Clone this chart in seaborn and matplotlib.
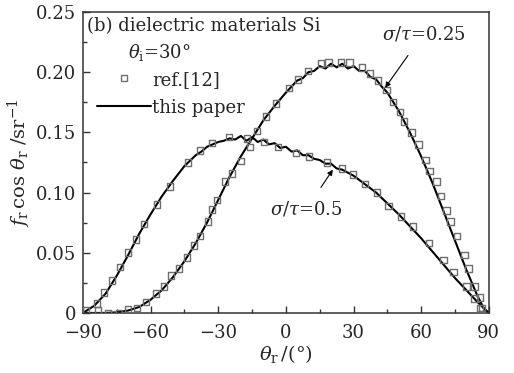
import numpy as np
import pandas as pd
import matplotlib
matplotlib.use("Agg")
import matplotlib.pyplot as plt
import seaborn as sns
from matplotlib.lines import Line2D
from matplotlib.ticker import MultipleLocator

# ---- data ----
# markers (ref.[12]), sigma/tau = 0.5
ref05_x = [-88.7, -83.8, -80.7, -77.1, -73.6, -70.0, -66.5, -63.0, -57.2, -51.4, -43.5, -38.1,
           -32.8, -25.3, -17.3, -9.8, -3.6, 4.4, 10.2, 18.2, 24.8, 29.7, 35.0, 40.3, 45.6,
           51.0, 56.3, 63.4, 70.0, 74.4, 80.2, 83.7, 86.0]
ref05_y = [0.002, 0.008, 0.017, 0.027, 0.038, 0.050, 0.061, 0.074, 0.090, 0.105, 0.125, 0.135,
           0.141, 0.146, 0.145, 0.142, 0.138, 0.133, 0.130, 0.125, 0.120, 0.115, 0.107, 0.100, 0.089,
           0.080, 0.072, 0.058, 0.044, 0.034, 0.022, 0.012, 0.004]
# markers (ref.[12]), sigma/tau = 0.25
ref025_x = [-83.4, -78.9, -74.0, -70.0, -66.0, -62.0, -57.6, -54.0, -51.0, -47.4, -43.9, -40.8,
            -38.1, -34.6, -32.8, -30.6, -27.0, -24.0, -20.0, -16.0, -12.9, -8.9, -4.5, 1.3, 5.3,
            9.7, 15.5, 19.0, 24.4, 28.3, 33.7, 37.2, 40.8, 44.7, 47.4, 50.5, 52.3, 55.8, 58.9,
            62.0, 63.8, 66.9, 68.7, 71.3, 73.1, 75.8, 79.3, 81.1, 83.7, 86.0, 86.9]
ref025_y = [0.002, 0.000, 0.000, 0.003, 0.004, 0.009, 0.016, 0.022, 0.031, 0.037, 0.046, 0.056,
            0.064, 0.076, 0.086, 0.094, 0.109, 0.116, 0.126, 0.138, 0.151, 0.163, 0.174, 0.187, 0.194,
            0.201, 0.207, 0.208, 0.208, 0.208, 0.204, 0.199, 0.193, 0.185, 0.175, 0.167, 0.159, 0.150, 0.140,
            0.127, 0.118, 0.109, 0.097, 0.085, 0.076, 0.064, 0.048, 0.037, 0.022, 0.013, 0.004]

# lines (this paper)
line05_x = [-90, -85, -80, -75, -70, -65, -60, -55, -50, -45, -40, -37.5, -35, -32.5, -30, -27.5, -25,
            -22.5, -20, -17.5, -15, -12.5, -10, -7.5, -5, -2.5, 0, 2.5, 5, 7.5, 10, 12.5, 15,
            17.5, 20, 22.5, 25, 30, 35, 40, 45, 50, 55, 60, 65, 70, 75, 80, 85, 90]
line05_y = [0.000, 0.006, 0.016, 0.031, 0.048, 0.066, 0.082, 0.097, 0.110, 0.122, 0.131, 0.134, 0.138, 0.140,
            0.142, 0.143, 0.145, 0.144, 0.147, 0.143, 0.146, 0.142, 0.144, 0.140, 0.141, 0.137,
            0.138, 0.134, 0.135, 0.131, 0.131, 0.128, 0.127, 0.124, 0.124, 0.120, 0.119, 0.114, 0.107,
            0.100, 0.091, 0.082, 0.072, 0.062, 0.051, 0.040, 0.029, 0.019, 0.009, 0.000]
line025_x = [-90, -80, -75, -70, -65, -60, -55, -50, -45, -40, -35, -30, -25, -20, -15, -10, -5, 0,
             5, 7.5, 10, 12.5, 15, 17.5, 20, 22.5, 25, 27.5, 30, 32.5, 35, 37.5, 40, 42.5, 45, 50,
             55, 60, 65, 70, 75, 80, 85, 88, 90]
line025_y = [0.000, 0.000, 0.0005, 0.002, 0.005, 0.011, 0.019, 0.030, 0.043, 0.058, 0.075, 0.094,
             0.113, 0.130, 0.145, 0.160, 0.172, 0.183, 0.193, 0.195, 0.200, 0.201, 0.205, 0.203,
             0.207, 0.204, 0.207, 0.203, 0.205, 0.201, 0.201, 0.196, 0.194, 0.188, 0.183, 0.168,
             0.150, 0.130, 0.108, 0.084, 0.060, 0.036, 0.014, 0.003, 0.000]

x_ticks = [-90, -60, -30, 0, 30, 60, 90]
y_ticks = [0, 0.05, 0.10, 0.15, 0.20, 0.25]
y_tick_labels = ["0", "0.05", "0.10", "0.15", "0.20", "0.25"]

sns.set_style("white")
plt.rcParams['font.family'] = ['DejaVu Serif', 'DejaVu Sans']
plt.rcParams['mathtext.fontset'] = 'dejavuserif'

fig = plt.figure(figsize=(5.14, 3.73), dpi=100)
ax = fig.add_axes([0.1615, 0.161, 0.7895, 0.807])

sns.lineplot(x=line05_x, y=line05_y, ax=ax, color="black", lw=1.5, sort=False)
sns.lineplot(x=line025_x, y=line025_y, ax=ax, color="black", lw=1.5, sort=False)
sq = dict(marker="s", s=22, facecolor="none", edgecolor="#6e6e6e", linewidth=1.0, zorder=3)
sns.scatterplot(x=ref05_x, y=ref05_y, ax=ax, **sq)
sns.scatterplot(x=ref025_x, y=ref025_y, ax=ax, **sq)

ax.set_xlim(-90, 90)
ax.set_ylim(0, 0.25)
ax.set_xticks(x_ticks)
ax.set_xticklabels([("\u2212%d" % -v) if v < 0 else str(v) for v in x_ticks])
ax.set_yticks(y_ticks)
ax.set_yticklabels(y_tick_labels)
ax.xaxis.set_minor_locator(MultipleLocator(15))
ax.yaxis.set_minor_locator(MultipleLocator(0.025))
ax.tick_params(which="both", direction="in", bottom=True, left=True, top=False, right=False,
               labelsize=13, color="#333333")
ax.tick_params(axis="x", pad=8)
ax.tick_params(axis="y", pad=5)
ax.tick_params(which="major", length=5, width=1)
ax.tick_params(which="minor", length=3, width=1)
for s in ax.spines.values():
    s.set_color("#333333")
    s.set_linewidth(1.1)

ax.set_xlabel(r"$\theta_{\rm r}\,$/(°)", fontsize=14, labelpad=1)
ax.set_ylabel(r"$f_{\rm r}\,\cos\,\theta_{\rm r}\ /{\rm sr}^{-1}$", fontsize=14, labelpad=2)

ax.text(-88.3, 0.238, "(b) dielectric materials Si", fontsize=13, va="center", ha="left")
ax.text(-56, 0.216, r"$\theta_{\rm i}$=30°", fontsize=13, va="center", ha="center")

handles = [Line2D([], [], marker="s", ls="none", mfc="none", mec="#6e6e6e", ms=4.7),
           Line2D([], [], color="black", lw=1.5)]
ax.legend(handles, ["ref.[12]", "this paper"], loc="upper left", bbox_to_anchor=(0.034, 0.805),
          frameon=False, fontsize=13, handlelength=3.0, handletextpad=0.05,
          labelspacing=0.55, borderaxespad=0.0, borderpad=0.0)

ax.annotate(r"$\sigma/\tau$=0.25", xy=(44, 0.187), xytext=(61, 0.232), fontsize=13,
            ha="center", va="center",
            arrowprops=dict(arrowstyle="-|>", color="black", lw=0.8, mutation_scale=8,
                            shrinkA=8, shrinkB=0))
ax.annotate(r"$\sigma/\tau$=0.5", xy=(20.8, 0.119), xytext=(9, 0.086), fontsize=13,
            ha="center", va="center",
            arrowprops=dict(arrowstyle="-|>", color="black", lw=0.8, mutation_scale=8,
                            shrinkA=8, shrinkB=0))

fig.savefig("out.png", dpi=100)
